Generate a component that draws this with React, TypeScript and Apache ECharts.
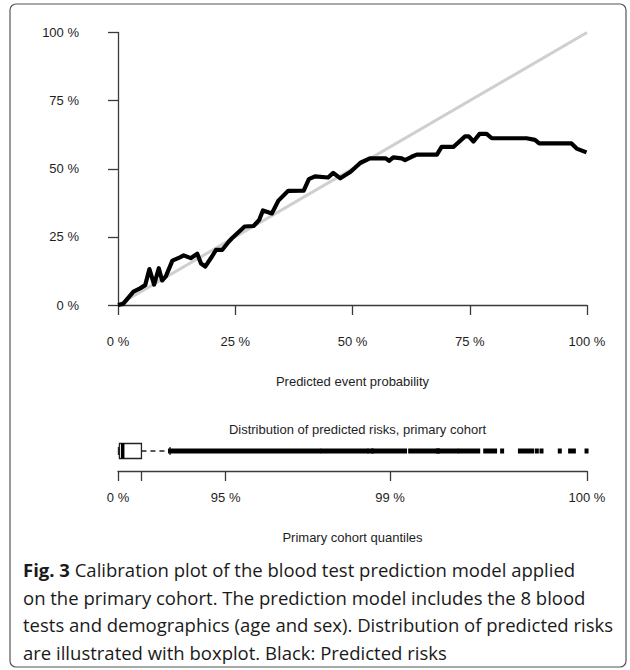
import React, { useEffect, useRef } from 'react';
import * as echarts from 'echarts';

// Calibration curve (predicted probability, observed proportion)
const predictedProb = [
  0, 0.011, 0.033, 0.047, 0.058, 0.067, 0.077, 0.087, 0.094, 0.102, 0.116, 0.132, 0.14, 0.155,
  0.169, 0.177, 0.186, 0.2, 0.209, 0.222, 0.236, 0.243, 0.27, 0.289, 0.301, 0.309, 0.328, 0.342,
  0.363, 0.396, 0.407, 0.42, 0.448, 0.459, 0.474, 0.496, 0.517, 0.537, 0.571, 0.578, 0.587, 0.605,
  0.612, 0.626, 0.637, 0.68, 0.69, 0.715, 0.74, 0.748, 0.758, 0.771, 0.786, 0.797, 0.871, 0.889,
  0.898, 0.967, 0.978, 0.999,
];
const observedProp = [
  0, 0.004, 0.049, 0.061, 0.073, 0.132, 0.075, 0.135, 0.09, 0.105, 0.163, 0.175, 0.182, 0.172,
  0.188, 0.152, 0.141, 0.177, 0.202, 0.202, 0.232, 0.245, 0.288, 0.29, 0.312, 0.347, 0.336, 0.383,
  0.419, 0.42, 0.462, 0.472, 0.468, 0.485, 0.465, 0.489, 0.522, 0.538, 0.538, 0.529, 0.542, 0.538,
  0.532, 0.544, 0.552, 0.552, 0.58, 0.58, 0.619, 0.619, 0.6, 0.628, 0.628, 0.612, 0.612, 0.606,
  0.593, 0.593, 0.574, 0.56,
];
const identityLine = [0, 1];
const probTicks = [0, 0.25, 0.5, 0.75, 1];
const probTickLabels = ['0 %', '25 %', '50 %', '75 %', '100 %'];

// Boxplot of predicted risks: min, Q1, median, Q3, upper whisker
const boxStats = [0.001, 0.003, 0.01, 0.05, 0.111];
// Outliers (dense runs and isolated points), as [from, to] on the risk scale
const outlierRuns = [
  [0.111, 0.429], [0.436, 0.53], [0.536, 0.541], [0.544, 0.612], [0.623, 0.68], [0.682, 0.682],
  [0.687, 0.722], [0.729, 0.768], [0.783, 0.804], [0.819, 0.819], [0.857, 0.883], [0.893, 0.893],
  [0.903, 0.903], [0.942, 0.942], [0.964, 0.972], [0.999, 0.999],
];
// Cohort quantile axis (risk value at which each quantile lies)
const quantileTickRisk = [0, 0.05, 0.2296, 0.58, 1];
const quantileTickLabels = ['0 %', '', '95 %', '99 %', '100 %'];

const captionLines = [
  ' Calibration plot of the blood test prediction model applied',
  'on the primary cohort. The prediction model includes the 8 blood',
  'tests and demographics (age and sex). Distribution of predicted risks',
  'are illustrated with boxplot. Black: Predicted risks',
];
const captionBold = 'Fig. 3';

const FONT = '"Liberation Sans", Arial, sans-serif';
const TXT = '#1e1e1e';
const AX = '#3a3a3a';

export default function App() {
  const ref = useRef<HTMLDivElement>(null);
  useEffect(() => {
    document.body.style.margin = '0';
    if (!ref.current) return;
    const chart = echarts.init(ref.current, null, { renderer: 'svg' });

    const curve = predictedProb.map((p, i) => [p, observedProp[i]]);
    const labelFor = (ticks: number[], labels: string[]) => (v: number) => {
      const i = ticks.findIndex((t) => Math.abs(t - v) < 1e-6);
      return i >= 0 ? labels[i] : '';
    };

    const boxItem = [0, ...boxStats];
    const runs = outlierRuns.map((r) => [0, r[0], r[1]]);

    const option: any = {
      animation: false,
      backgroundColor: '#fff',
      textStyle: { fontFamily: FONT },
      grid: [
        { left: 118, top: 32.5, width: 469, height: 272.5 },
        { left: 118, top: 431, width: 469, height: 40 },
      ],
      xAxis: [
        {
          gridIndex: 0, type: 'value', min: 0, max: 1, offset: 10,
          splitLine: { show: false },
          axisLine: { show: true, lineStyle: { color: AX, width: 1.3 } },
          axisTick: { show: true, length: 10, lineStyle: { color: AX, width: 1.3 }, customValues: probTicks },
          axisLabel: {
            customValues: probTicks, formatter: labelFor(probTicks, probTickLabels),
            color: TXT, fontSize: 13, margin: 20, fontFamily: FONT,
          },
          name: 'Predicted event probability', nameLocation: 'middle', nameGap: 60,
          nameTextStyle: { color: TXT, fontSize: 13, fontFamily: FONT },
        },
        {
          gridIndex: 1, type: 'value', min: 0, max: 1,
          splitLine: { show: false },
          axisLine: { show: true, lineStyle: { color: AX, width: 1.3 } },
          axisTick: { show: true, length: 10, lineStyle: { color: AX, width: 1.3 }, customValues: quantileTickRisk },
          axisLabel: {
            customValues: quantileTickRisk, formatter: labelFor(quantileTickRisk, quantileTickLabels),
            color: TXT, fontSize: 13, margin: 20, fontFamily: FONT,
          },
          name: 'Primary cohort quantiles', nameLocation: 'middle', nameGap: 60,
          nameTextStyle: { color: TXT, fontSize: 13, fontFamily: FONT },
        },
      ],
      yAxis: [
        {
          gridIndex: 0, type: 'value', min: 0, max: 1, interval: 0.25, offset: 17,
          splitLine: { show: false },
          axisLine: { show: true, lineStyle: { color: AX, width: 1.3 } },
          axisTick: { show: true, length: 10, lineStyle: { color: AX, width: 1.3 } },
          axisLabel: {
            formatter: labelFor(probTicks, probTickLabels),
            color: TXT, fontSize: 13, margin: 22, fontFamily: FONT,
          },
        },
        {
          gridIndex: 1, type: 'category', data: ['risk'],
          axisLine: { show: false }, axisTick: { show: false }, axisLabel: { show: false },
          splitLine: { show: false },
        },
      ],
      title: {
        text: 'Distribution of predicted risks, primary cohort',
        left: 352.5, top: 418, textAlign: 'center',
        textStyle: { color: TXT, fontSize: 13, fontWeight: 'normal', fontFamily: FONT },
      },
      series: [
        {
          type: 'line', xAxisIndex: 0, yAxisIndex: 0, clip: false,
          data: identityLine.map((v) => [v, v]), symbol: 'none',
          lineStyle: { color: '#cfcfcf', width: 3 }, z: 2,
        },
        {
          type: 'line', xAxisIndex: 0, yAxisIndex: 0, clip: false,
          data: curve, symbol: 'none',
          lineStyle: { color: '#000', width: 4.2, join: 'round' }, z: 3,
        },
        {
          type: 'custom', xAxisIndex: 1, yAxisIndex: 1, clip: false,
          encode: { y: 0, x: [1, 2, 3, 4, 5] },
          data: [boxItem],
          renderItem: (params: any, api: any) => {
            const c = (v: number) => api.coord([v, api.value(0)]);
            const [xMin, cy] = c(api.value(1));
            const xQ1 = c(api.value(2))[0];
            const xMed = c(api.value(3))[0];
            const xQ3 = c(api.value(4))[0];
            const xMax = c(api.value(5))[0];
            const h = 7.5;
            const st = 4;
            const stroke = { stroke: '#222', lineWidth: 1.3, fill: 'none' };
            return {
              type: 'group',
              children: [
                { type: 'line', shape: { x1: xQ3, y1: cy, x2: xMax, y2: cy }, style: { ...stroke, lineDash: [5, 4] } },
                { type: 'line', shape: { x1: xMin, y1: cy, x2: xQ1, y2: cy }, style: { ...stroke, lineDash: [5, 4] } },
                { type: 'line', shape: { x1: xMax, y1: cy - st, x2: xMax, y2: cy + st }, style: stroke },
                { type: 'line', shape: { x1: xMin, y1: cy - st, x2: xMin, y2: cy + st }, style: stroke },
                { type: 'rect', shape: { x: xQ1, y: cy - h, width: xQ3 - xQ1, height: 2 * h }, style: { stroke: '#222', lineWidth: 1.3, fill: '#fff' } },
                { type: 'line', shape: { x1: xMed, y1: cy - h, x2: xMed, y2: cy + h }, style: { stroke: '#000', lineWidth: 3.5 } },
              ],
            };
          },
          z: 3,
        },
        {
          type: 'custom', xAxisIndex: 1, yAxisIndex: 1, clip: false,
          encode: { y: 0, x: [1, 2] },
          data: runs,
          renderItem: (params: any, api: any) => {
            const a = api.coord([api.value(1), api.value(0)]);
            const b = api.coord([api.value(2), api.value(0)]);
            return {
              type: 'rect',
              shape: { x: a[0] - 2, y: a[1] - 2.5, width: b[0] - a[0] + 4, height: 5 },
              style: { fill: '#000' },
            };
          },
          z: 4,
        },
      ],
      graphic: [
        {
          type: 'rect', shape: { x: 10, y: 4, width: 616, height: 663, r: 6 },
          style: { fill: 'none', stroke: '#555', lineWidth: 1.2 }, silent: true,
        },
        ...captionLines.map((line, i) => ({
          type: 'text', left: 23, top: 560 + i * 27.5,
          style: {
            text: i === 0 ? `{b|${captionBold}}${line}` : line,
            fontFamily: '"Open Sans", sans-serif', fontSize: 18.5, fill: '#1a1a1a',
            rich: { b: { fontWeight: 'bold', fontFamily: '"Open Sans", sans-serif', fontSize: 18.5, fill: '#1a1a1a' } },
          },
        })),
      ],
    };
    chart.setOption(option);
    return () => chart.dispose();
  }, []);
  return <div ref={ref} style={{ width: 630, height: 670 }} />;
}
